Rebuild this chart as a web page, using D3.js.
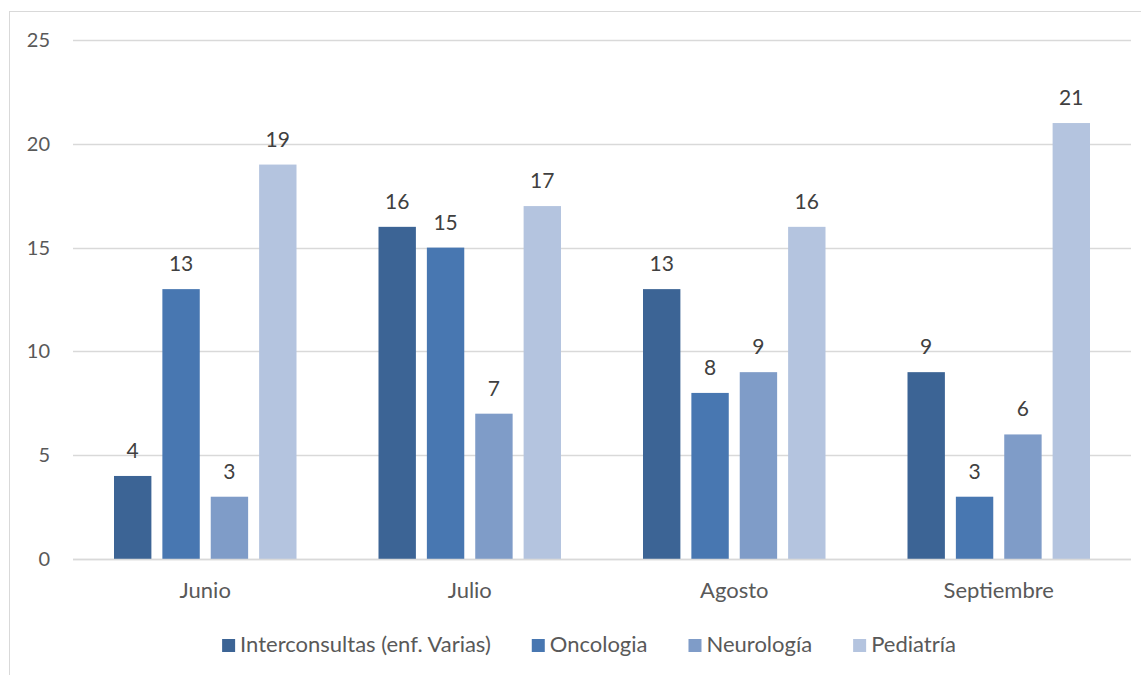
<!DOCTYPE html>
<html>
<head>
<meta charset="utf-8">
<script src="https://cdn.jsdelivr.net/npm/d3@7"></script>
<style>
  body { margin: 0; background: #fff; }
  text { font-family: Lato, "Open Sans", sans-serif; }
</style>
</head>
<body>
<svg id="canvas"></svg>
<script>
var months = ['Junio', 'Julio', 'Agosto', 'Septiembre'];
var seriesNames = ['Interconsultas (enf. Varias)', 'Oncologia', 'Neurología', 'Pediatría'];
var interconsultas = [4, 16, 13, 9];
var oncologia = [13, 15, 8, 3];
var neurologia = [3, 7, 9, 6];
var pediatria = [19, 17, 16, 21];
var yTicks = [0, 5, 10, 15, 20, 25];

var colors = ['#3c6495', '#4877b1', '#7f9cc8', '#b4c4df'];
var seriesValues = [interconsultas, oncologia, neurologia, pediatria];

var canvasWidth = 1141, canvasHeight = 675;
var plotLeft = 73, plotRight = 1131, plotTop = 40, plotBottom = 559;

var svg = d3.select('#canvas').attr('width', canvasWidth).attr('height', canvasHeight);

// chart frame (only left and top edges fall inside the picture)
svg.append('rect')
  .attr('x', 9.5).attr('y', 11.5)
  .attr('width', 1200).attr('height', 800)
  .attr('fill', 'none').attr('stroke', '#d9d9d9').attr('stroke-width', 1);

var x0 = d3.scaleBand().domain(months).range([plotLeft, plotRight]).padding(0);
var bandW = x0.bandwidth();
var outer = 41;
var x1 = d3.scaleBand().domain(seriesNames).range([outer, bandW - outer]).paddingInner(0.227).paddingOuter(0);
var y = d3.scaleLinear().domain([0, 25]).range([plotBottom, plotTop]);

// gridlines
svg.append('g').selectAll('line').data(yTicks).enter().append('line')
  .attr('x1', plotLeft).attr('x2', plotRight)
  .attr('y1', function (d) { return Math.round(y(d)) + 0.5; })
  .attr('y2', function (d) { return Math.round(y(d)) + 0.5; })
  .attr('stroke', '#d9d9d9').attr('stroke-width', 1.5);

// y labels
svg.append('g').selectAll('text').data(yTicks).enter().append('text')
  .attr('x', 50).attr('y', function (d) { return y(d) + 7; })
  .attr('text-anchor', 'end')
  .attr('font-size', 20).attr('fill', '#595959')
  .text(function (d) { return d; });

// bars
var rows = [];
months.forEach(function (m, i) {
  seriesNames.forEach(function (s, j) {
    rows.push({ month: m, series: s, value: seriesValues[j][i], color: colors[j] });
  });
});

var g = svg.append('g');
g.selectAll('rect').data(rows).enter().append('rect')
  .attr('x', function (d) { return x0(d.month) + x1(d.series); })
  .attr('width', x1.bandwidth())
  .attr('y', function (d) { return y(d.value); })
  .attr('height', function (d) { return y(0) - y(d.value); })
  .attr('fill', function (d) { return d.color; });

g.selectAll('text').data(rows).enter().append('text')
  .attr('x', function (d) { return x0(d.month) + x1(d.series) + x1.bandwidth() / 2; })
  .attr('y', function (d) { return y(d.value) - 18; })
  .attr('text-anchor', 'middle')
  .attr('font-size', 21).attr('fill', '#404040')
  .text(function (d) { return d.value; });

// baseline axis
svg.append('line')
  .attr('x1', plotLeft).attr('x2', plotRight)
  .attr('y1', plotBottom + 0.5).attr('y2', plotBottom + 0.5)
  .attr('stroke', '#d9d9d9').attr('stroke-width', 1.5);

// category labels
svg.append('g').selectAll('text').data(months).enter().append('text')
  .attr('x', function (d) { return x0(d) + bandW / 2; })
  .attr('y', 598)
  .attr('text-anchor', 'middle')
  .attr('font-size', 22).attr('fill', '#595959')
  .text(function (d) { return d; });

// legend
var legend = svg.append('g');
var items = legend.selectAll('g').data(seriesNames).enter().append('g');
items.append('rect')
  .attr('width', 13).attr('height', 13).attr('y', 639)
  .attr('fill', function (d, i) { return colors[i]; });
items.append('text')
  .attr('x', 18).attr('y', 652)
  .attr('font-size', 22).attr('fill', '#595959')
  .text(function (d) { return d; });

var pos = 0, gap = 41;
var offsets = [];
items.each(function () {
  var w = d3.select(this).select('text').node().getComputedTextLength();
  offsets.push(pos);
  pos += 18 + w + gap;
});
var total = pos - gap;
var startX = 589 - total / 2;
items.attr('transform', function (d, i) { return 'translate(' + (startX + offsets[i]) + ',0)'; });
</script>
</body>
</html>
